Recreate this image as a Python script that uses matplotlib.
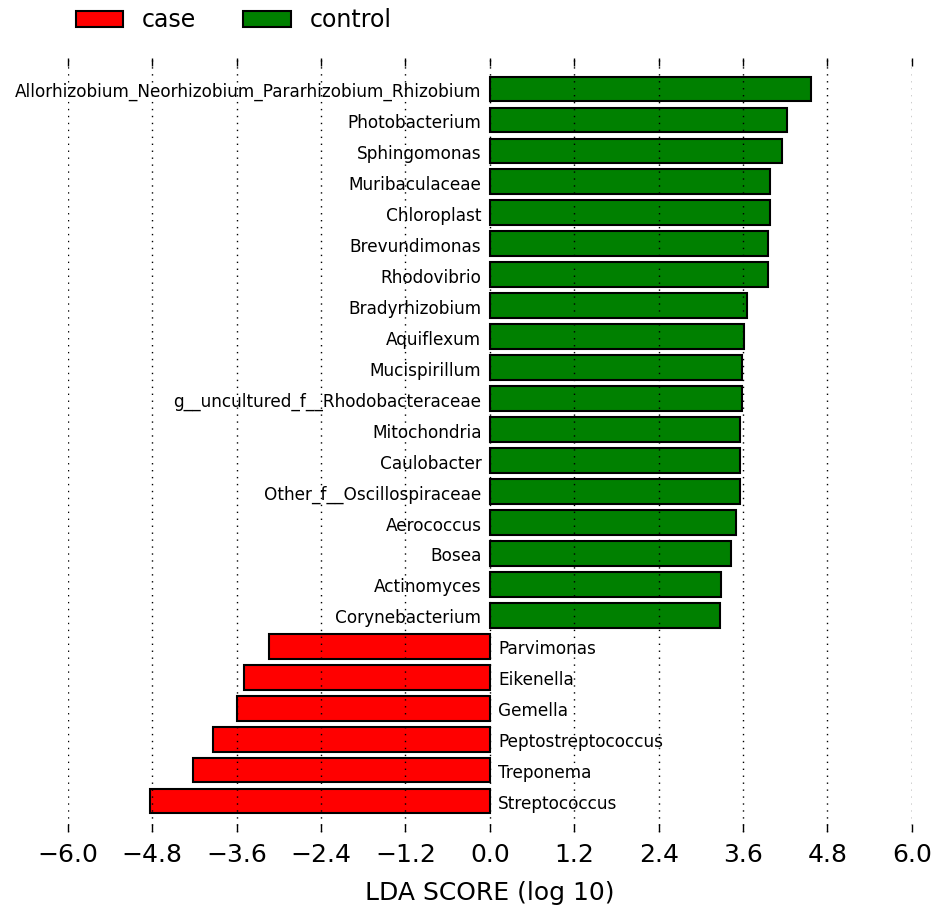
import matplotlib
matplotlib.use("Agg")
import matplotlib.pyplot as plt
from matplotlib.patches import Patch
import numpy as np

# bottom-to-top order
features = [
    "Streptococcus", "Treponema", "Peptostreptococcus", "Gemella", "Eikenella", "Parvimonas",
    "Corynebacterium", "Actinomyces", "Bosea", "Aerococcus", "Other_f__Oscillospiraceae",
    "Caulobacter", "Mitochondria", "g__uncultured_f__Rhodobacteraceae", "Mucispirillum",
    "Aquiflexum", "Bradyrhizobium", "Rhodovibrio", "Brevundimonas", "Chloroplast",
    "Muribaculaceae", "Sphingomonas", "Photobacterium",
    "Allorhizobium_Neorhizobium_Pararhizobium_Rhizobium",
]
scores = [
    -4.84, -4.22, -3.94, -3.59, -3.49, -3.14,
    3.27, 3.29, 3.43, 3.50, 3.55, 3.55, 3.56, 3.59, 3.59, 3.62, 3.66,
    3.96, 3.96, 3.98, 3.98, 4.16, 4.23, 4.56,
]
groups = ["case"] * 6 + ["control"] * 18
group_names = ["case", "control"]
group_colors = {"case": "#FF0000", "control": "#008000"}
xticks = [-6.0, -4.8, -3.6, -2.4, -1.2, 0.0, 1.2, 2.4, 3.6, 4.8, 6.0]

fig = plt.figure(figsize=(9.4, 9.14), dpi=100)
ax = fig.add_axes([0.0723, 0.0897, 0.8977, 0.8468])

ypos = np.arange(len(features))
colors = [group_colors[g] for g in groups]
ax.barh(ypos, scores, height=0.8, color=colors, edgecolor="black",
        linewidth=1.5, align="center", zorder=2)

for y, s, name in zip(ypos, scores, features):
    if s >= 0:
        ax.text(-0.12, y - 0.1, name, ha="right", va="center", fontsize=12.2, zorder=1)
    else:
        ax.text(0.12, y - 0.1, name, ha="left", va="center", fontsize=12.2, zorder=1)

ax.set_xlim(-6.0, 6.0)
ax.set_ylim(-1, len(features))
ax.set_xticks(xticks)
ax.set_xticklabels([f"{t:.1f}".replace("-", "\u2212") for t in xticks], fontsize=18)
ax.set_yticks([])
ax.tick_params(axis="x", direction="in", length=6, width=1, top=True, bottom=True,
               labeltop=False, pad=8)
for sp in ax.spines.values():
    sp.set_visible(False)
ax.xaxis.grid(True, linestyle=(0, (1, 4)), color="black", linewidth=1)
ax.set_axisbelow(False)
ax.set_xlabel("LDA SCORE (log 10)", fontsize=18, labelpad=10)

handles = [Patch(facecolor=group_colors[g], edgecolor="black", linewidth=1.5) for g in group_names]
fig.legend(handles, group_names, loc="upper left", bbox_to_anchor=(0.058, 1.014),
           ncol=2, frameon=False, fontsize=17, handlelength=2.0, handleheight=0.7,
           handletextpad=0.8, columnspacing=2.0)

fig.savefig("out.png", dpi=100)
